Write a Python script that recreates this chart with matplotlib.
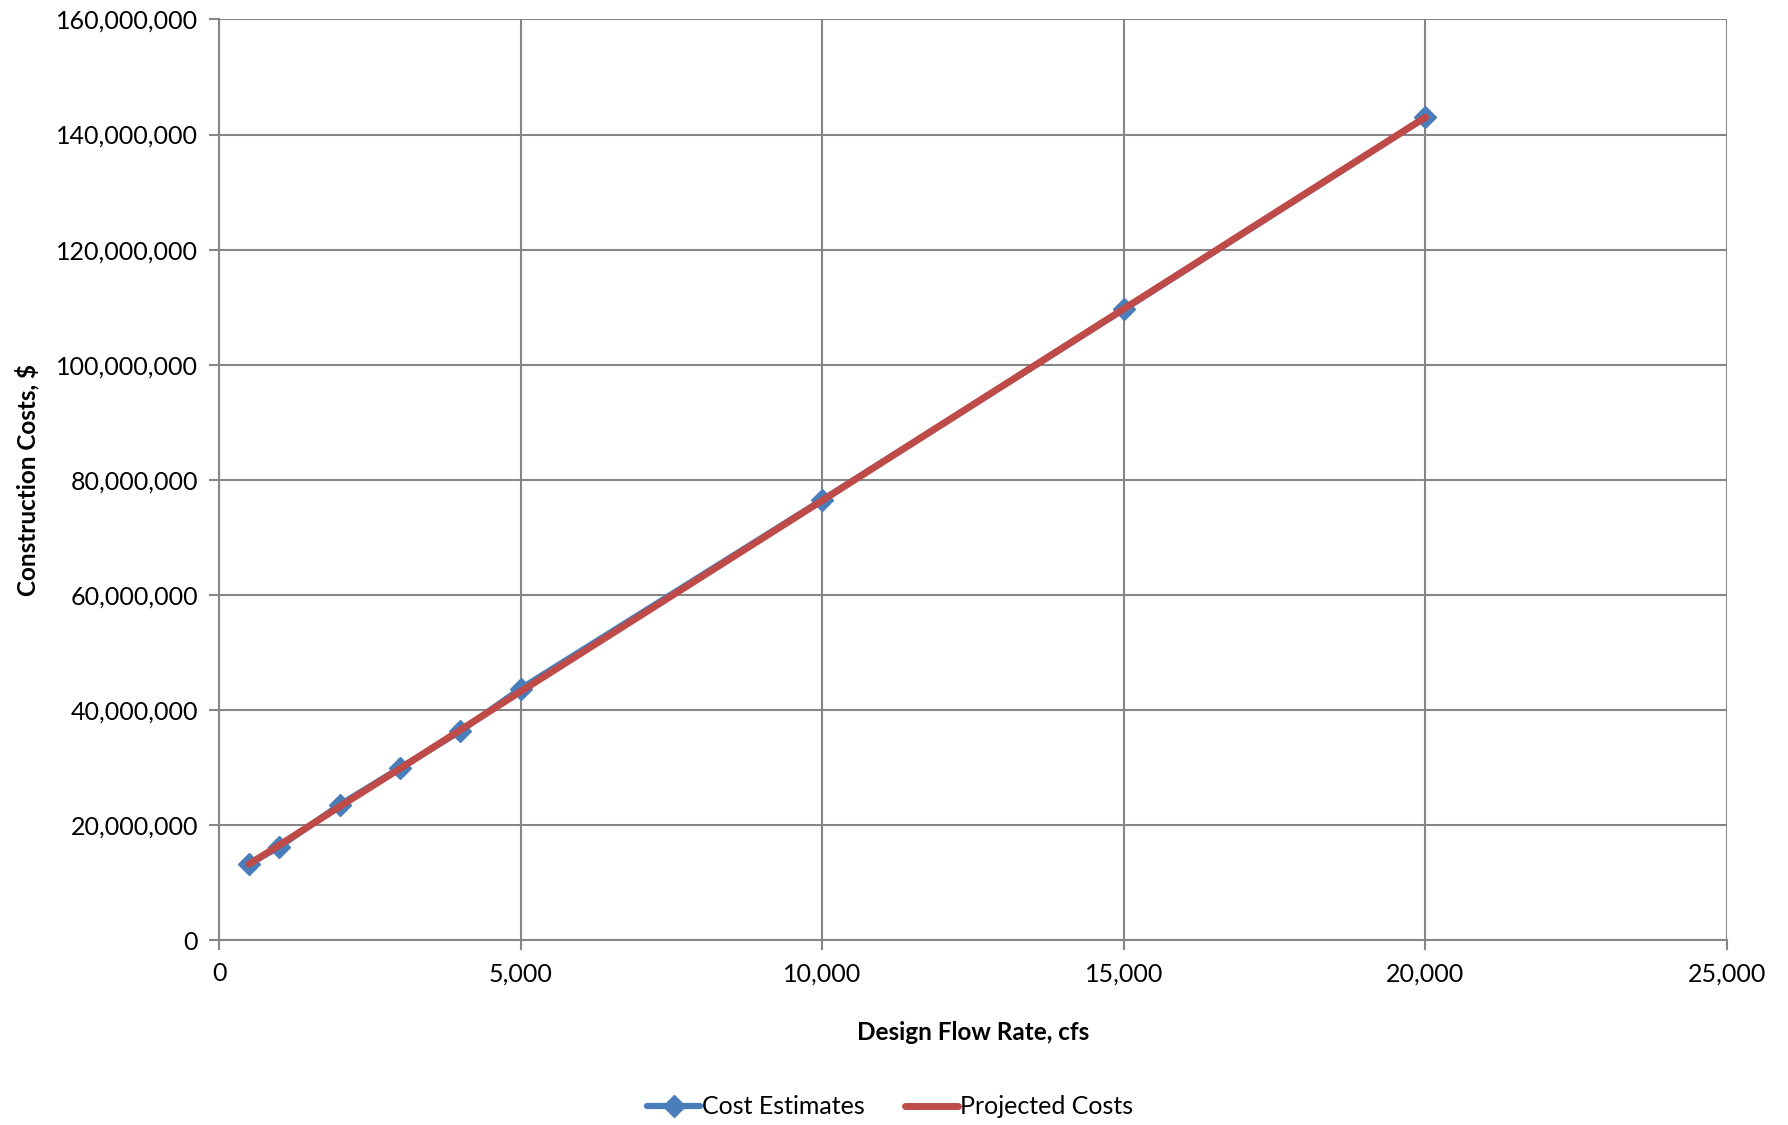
import matplotlib.pyplot as plt
from matplotlib.ticker import FuncFormatter

plt.rcParams['font.family'] = ['Lato', 'DejaVu Sans']

# design flow rate (cfs) and construction cost ($)
flow = [500, 1000, 2000, 3000, 4000, 5000, 10000, 15000, 20000]
cost_estimates = [13.2e6, 16.2e6, 23.5e6, 29.9e6, 36.3e6, 43.7e6, 76.5e6, 109.6e6, 143.0e6]
projected_costs = [13.2e6, 16.5e6, 23.2e6, 29.8e6, 36.5e6, 43.2e6, 76.4e6, 109.7e6, 143.0e6]

xticks = [0, 5000, 10000, 15000, 20000, 25000]
yticks = [0, 20e6, 40e6, 60e6, 80e6, 100e6, 120e6, 140e6, 160e6]

grid_col = '#868686'
blue = '#4A7EBB'
red = '#BE4B48'

fig = plt.figure(figsize=(17.88, 11.25), dpi=100)
ax = fig.add_axes([0.1225, 0.1644, 0.8434, 0.8183])

ax.plot(flow, cost_estimates, color=blue, lw=4.5, marker='D', ms=11,
        label='Cost Estimates', solid_capstyle='round', zorder=3)
ax.plot(flow, projected_costs, color=red, lw=5, label='Projected Costs',
        solid_capstyle='round', zorder=4)

ax.set_xlim(0, 25000)
ax.set_ylim(0, 160e6)
ax.set_xticks(xticks)
ax.set_yticks(yticks)
ax.xaxis.set_major_formatter(FuncFormatter(lambda v, p: f'{v:,.0f}'))
ax.yaxis.set_major_formatter(FuncFormatter(lambda v, p: f'{v:,.0f}'))

ax.grid(True, color=grid_col, lw=1.5)
ax.set_axisbelow(True)
for s in ax.spines.values():
    s.set_visible(False)
for side in ('left', 'bottom'):
    ax.spines[side].set_visible(True)
    ax.spines[side].set_color(grid_col)
    ax.spines[side].set_linewidth(1.5)
ax.tick_params(axis='both', colors=grid_col, labelcolor='black', labelsize=18,
               width=1.5, length=7)
ax.tick_params(axis='x', pad=9)
ax.tick_params(axis='y', pad=8)

ax.set_xlabel('Design Flow Rate, cfs', fontsize=17.5, fontweight='bold', labelpad=26)
ax.set_ylabel('Construction Costs, $', fontsize=17.5, fontweight='bold', labelpad=12)

fig.legend(loc='center', bbox_to_anchor=(0.498, 0.016), ncol=2, frameon=False,
           fontsize=18, handlelength=2.1, handletextpad=0.1, columnspacing=1.6)

fig.savefig('out.png', dpi=100)
